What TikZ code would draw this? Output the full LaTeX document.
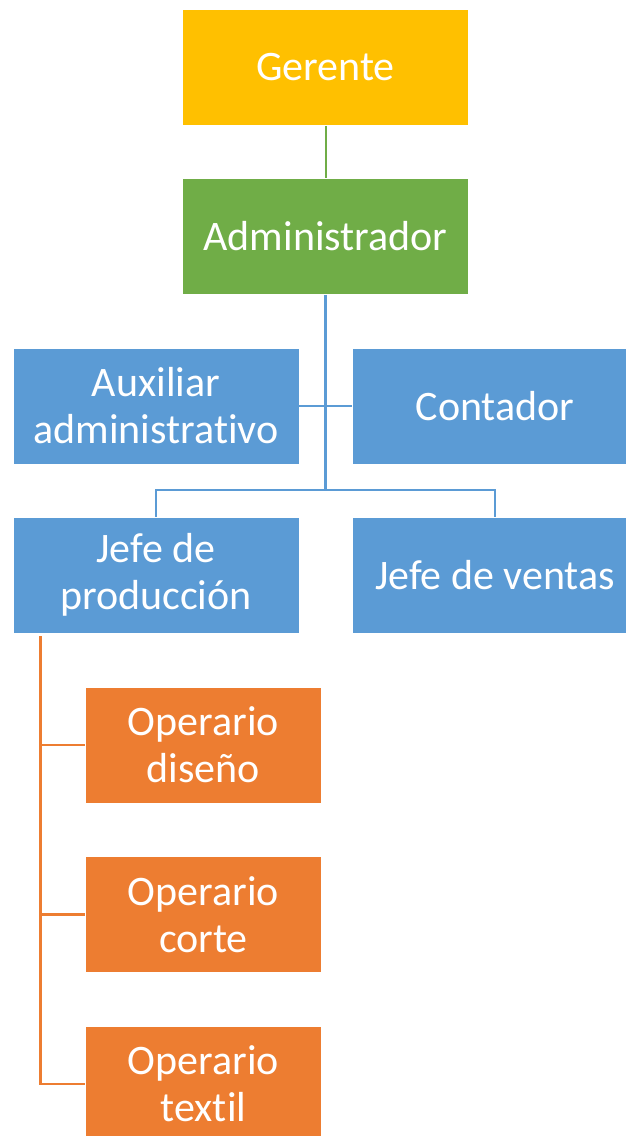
\documentclass[tikz,border=0pt]{standalone}
\usepackage{fontspec}
\setmainfont[Ligatures=CommonOff]{Carlito}
\usepackage{tikz}
\usetikzlibrary{positioning}
\definecolor{gold}{HTML}{FFC000}
\definecolor{leaf}{HTML}{70AD47}
\definecolor{sky}{HTML}{5B9BD5}
\definecolor{rust}{HTML}{ED7D31}
\tikzset{
  x=1pt, y=-1pt,
  box/.style={draw=white, line width=0.6pt, text=white, align=center, inner sep=0pt,
    minimum width=286pt, minimum height=116pt,
    font=\fontsize{42}{47}\selectfont},
  topbox/.style={box, fill=gold},
  adminbox/.style={box, fill=leaf},
  jefebox/.style={box, fill=sky},
  opbox/.style={box, fill=rust, minimum width=236pt},
  greenline/.style={draw=leaf, line width=2pt},
  blueline/.style={draw=sky, line width=2.5pt},
  orangeline/.style={draw=rust, line width=2.5pt}
}

\begin{document}
\begin{tikzpicture}
    \useasboundingbox (0,0) rectangle (626,1136);
    \node[topbox] (gerente) at (325.5,67.5) {Gerente};
    \node[adminbox] (admin) at (325.5,236.5) {Administrador};
    \node[jefebox] (aux) at (156,406) {Auxiliar\\administrativo};
    \node[jefebox] (contador) at (495,406) {Contador};
    \node[jefebox] (jprod) at (156,575) {Jefe de\\producción};
    \node[jefebox] (jventas) at (495,575) {Jefe de ventas};
    \node[opbox] (opdis) at (203.5,745) {Operario\\diseño};
    \node[opbox] (opcor) at (203.5,914.5) {Operario\\corte};
    \node[opbox] (optex) at (203.5,1084) {Operario\\textil};
    \coordinate (split) at (325.5,490);
    \coordinate (otop) at (40.5,636);
    \draw[greenline] (gerente) -- (admin);
    \draw[blueline] (admin) -- (split);
    \draw[blueline] (aux.east) -- (contador.west);
    \draw[blueline] (jprod.north) |- (split) -| (jventas.north);
    \draw[orangeline] (otop) |- (optex.west);
    \draw[orangeline] (otop |- opdis.west) -- (opdis.west);
    \draw[orangeline] (otop |- opcor.west) -- (opcor.west);
\end{tikzpicture}
\end{document}
